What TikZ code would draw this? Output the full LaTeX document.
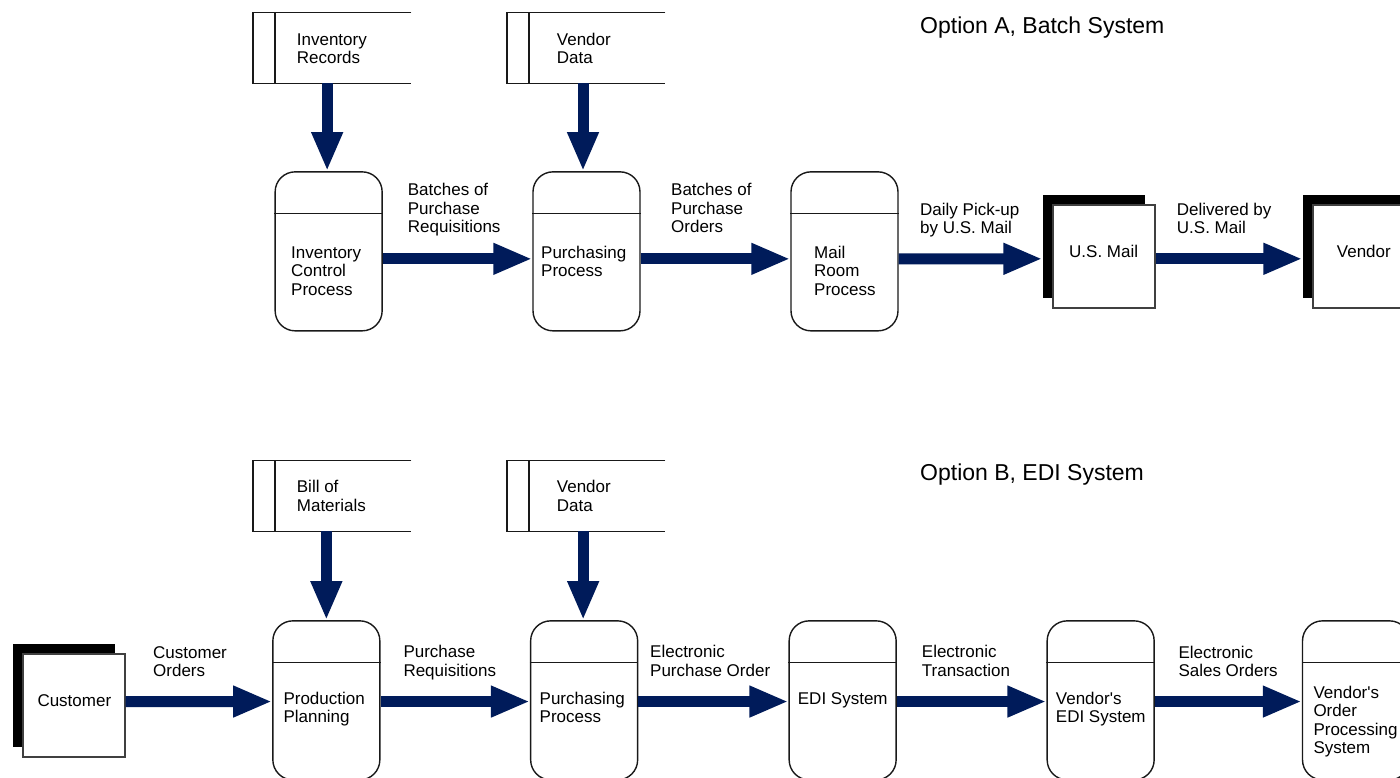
\documentclass[tikz,border=0pt]{standalone}
\usepackage{fontspec}
\setmainfont{Liberation Sans}
\usetikzlibrary{arrows.meta,shadows}
\definecolor{navy}{RGB}{0,27,90}
\newcommand\lblfont{\fontsize{17}{18.5}\selectfont}
\newcommand\ttlfont{\fontsize{23}{27}\selectfont}
\tikzset{
  outline/.style={draw=black!90, line width=1.4pt},
  proc/.style={outline, rounded corners=20pt, minimum width=107pt, minimum height=159pt, inner sep=0pt, fill=white},
  ext/.style={draw=black!75, line width=1.1pt, fill=white, minimum width=102pt, minimum height=103pt, inner sep=0pt,
    general shadow={fill=black, shadow xshift=-10pt, shadow yshift=10pt}},
  store/.style={minimum width=157.7pt, minimum height=70.6pt, inner sep=0pt},
  txt/.style={font=\lblfont, align=left, inner sep=0pt, anchor=base west},
  ttl/.style={font=\ttlfont, inner sep=0pt, anchor=base west},
  flow/.style={draw=navy, line width=11pt, -{Triangle[length=39pt,width=29pt]}},
}
\newcommand\storelines[1]{%
  \draw[outline] (#1.north east) -- (#1.north west) -- (#1.south west) -- (#1.south east);
  \draw[outline] ([xshift=21.7pt]#1.north west) -- ([xshift=21.7pt]#1.south west);}
\newcommand\procline[1]{%
  \draw[outline] ([yshift=-42.6pt]#1.north west) -- ([yshift=-42.6pt]#1.north east);}
\newcommand\apos{\textquotesingle}
\begin{document}
\begin{tikzpicture}[x=1pt,y=-1pt]
\useasboundingbox (0,0) rectangle (1400,778);
\clip (0,0) rectangle (1400,778);
\fill[white] (0,0) rectangle (1400,778);

% ---------------- Option A ----------------
\node[ttl] (ttlA) at (920,34) {Option A, Batch System};

\node[store] (ir) at (332.2,48) {};
\storelines{ir}
\node[txt] (irt) at (296.7,64) {Inventory\\Records};

\node[store] (vda) at (586.2,48) {};
\storelines{vda}
\node[txt] (vdat) at (556.7,64) {Vendor\\Data};

\node[proc] (icp) at (328.65,251.35) {};
\procline{icp}
\node[txt] (icpt) at (291,295) {Inventory\\Control\\Process};

\node[proc] (ppa) at (586.5,251.35) {};
\procline{ppa}
\node[txt] (ppat) at (541,276.5) {Purchasing\\Process};

\node[proc] (mr) at (844.5,251.35) {};
\procline{mr}
\node[txt] (mrt) at (814,295) {Mail\\Room\\Process};

\node[ext] (usm) at (1104,256.5) {};
\node[txt] (usmt) at (1069,257.3) {U.S. Mail};

\node[ext] (ven) at (1364,256.5) {};
\node[txt] (vent) at (1336.7,257.3) {Vendor};

\node[txt] (l1) at (407.7,233) {Batches of\\Purchase\\Requisitions};
\node[txt] (l2) at (671,233) {Batches of\\Purchase\\Orders};
\node[txt] (l3) at (920,233.5) {Daily Pick-up\\by U.S. Mail};
\node[txt] (l4) at (1176.7,233.8) {Delivered by\\U.S. Mail};

\draw[flow] ([xshift=-1.5pt]ir.south -| icp.north) -- ([xshift=-1.5pt]icp.north);
\draw[flow] ([xshift=-3.5pt]vda.south -| ppa.north) -- ([xshift=-3.5pt]ppa.north);
\draw[flow] ([yshift=-7.5pt]icp.east) -- ([yshift=-7.5pt]ppa.west);
\draw[flow] ([yshift=-7.5pt]ppa.east) -- ([yshift=-7.5pt]mr.west);
\draw[flow] ([yshift=-7.5pt]mr.east) -- ([xshift=-10pt,yshift=-2.3pt]usm.west);
\draw[flow] ([yshift=-2.3pt]usm.east) -- ([xshift=-10pt,yshift=-2.3pt]ven.west);

% ---------------- Option B ----------------
\node[ttl] (ttlB) at (920,480) {Option B, EDI System};

\node[store] (bom) at (332.2,495.85) {};
\storelines{bom}
\node[txt] (bomt) at (296.7,511.2) {Bill of\\Materials};

\node[store] (vdb) at (586.2,495.85) {};
\storelines{vdb}
\node[txt] (vdbt) at (556.7,511.2) {Vendor\\Data};

\node[ext] (cust) at (74,705.5) {};
\node[txt] (custt) at (37.3,706.7) {Customer};

\node[proc] (prp) at (326.35,700.35) {};
\procline{prp}
\node[txt] (prpt) at (283.3,722.8) {Production\\Planning};

\node[proc] (ppb) at (584.15,700.35) {};
\procline{ppb}
\node[txt] (ppbt) at (539.5,722.5) {Purchasing\\Process};

\node[proc] (edi) at (842.65,700.35) {};
\procline{edi}
\node[txt] (edit) at (797.7,704) {EDI System};

\node[proc] (vedi) at (1100.65,700.35) {};
\procline{vedi}
\node[txt] (vedit) at (1055.7,722.5) {Vendor\apos s\\EDI System};

\node[proc] (vop) at (1356,700.35) {};
\procline{vop}
\node[txt] (vopt) at (1313.3,753.8) {Vendor\apos s\\Order\\Processing\\System};

\node[txt] (m1) at (153,676.8) {Customer\\Orders};
\node[txt] (m2) at (403.3,676.2) {Purchase\\Requisitions};
\node[txt] (m3) at (650,676) {Electronic\\Purchase Order};
\node[txt] (m4) at (921.7,676) {Electronic\\Transaction};
\node[txt] (m5) at (1178.3,676.5) {Electronic\\Sales Orders};

\draw[flow] (bom.south -| prp.north) -- (prp.north);
\draw[flow] ([xshift=-1pt]vdb.south -| ppb.north) -- ([xshift=-1pt]ppb.north);
\draw[flow] ([yshift=4pt]cust.east) -- ([yshift=-1.2pt]prp.west);
\draw[flow] ([yshift=-1.2pt]prp.east) -- ([yshift=-1.2pt]ppb.west);
\draw[flow] ([yshift=-1.2pt]ppb.east) -- ([yshift=-1.2pt]edi.west);
\draw[flow] ([yshift=-1.2pt]edi.east) -- ([yshift=-1.2pt]vedi.west);
\draw[flow] ([yshift=-1.2pt]vedi.east) -- ([yshift=-1.2pt]vop.west);
\end{tikzpicture}
\end{document}
